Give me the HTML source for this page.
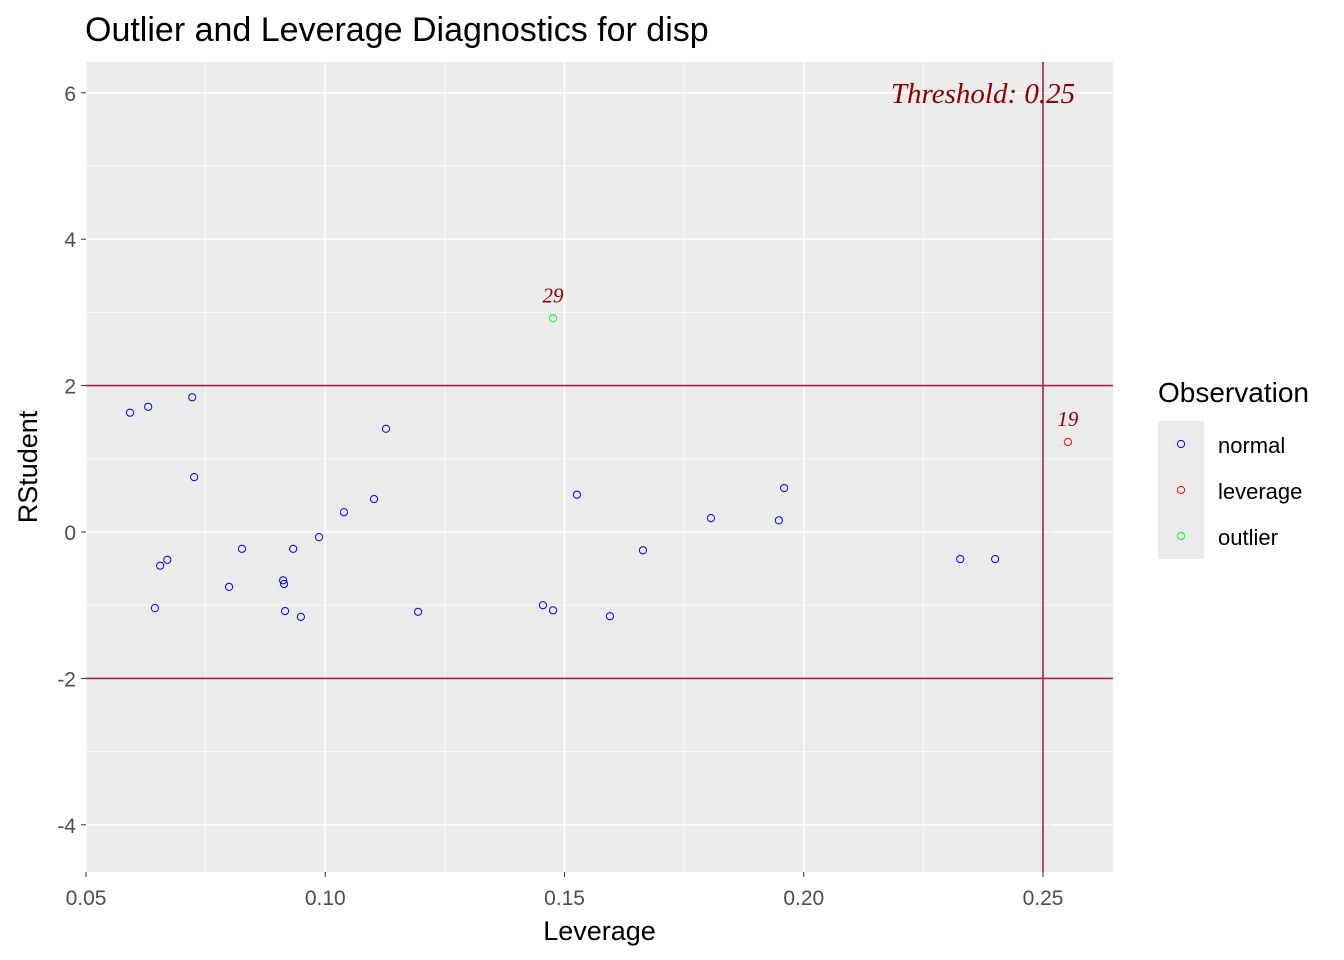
<!DOCTYPE html>
<html><head><meta charset="utf-8"><style>
body{margin:0;background:#fff;}
svg{display:block;font-family:"Liberation Sans",Arial,sans-serif;}
</style></head><body>
<svg id="chart" width="1344" height="960"></svg>
<script>
const xs=[0.0592,0.063,0.0722,0.0726,0.0655,0.067,0.0644,0.0799,0.0826,0.0912,0.0914,0.0916,0.0933,0.0949,0.0987,0.1039,0.1102,0.1127,0.1194,0.1455,0.1476,0.1476,0.1526,0.1595,0.1664,0.1806,0.1948,0.1959,0.2327,0.2400,0.2552];
const ys=[1.63,1.71,1.84,0.75,-0.46,-0.38,-1.04,-0.75,-0.23,-0.66,-0.71,-1.08,-0.23,-1.16,-0.07,0.27,0.45,1.41,-1.09,-1.00,2.92,-1.07,0.51,-1.15,-0.25,0.19,0.16,0.60,-0.37,-0.37,1.23];
const types=["normal","normal","normal","normal","normal","normal","normal","normal","normal","normal","normal","normal","normal","normal","normal","normal","normal","normal","normal","normal","outlier","normal","normal","normal","normal","normal","normal","normal","normal","normal","leverage"];
const labels=["","","","","","","","","","","","","","","","","","","","","29","","","","","","","","","","19"];
const xTicks=[0.05,0.10,0.15,0.20,0.25];
const xTickLabels=["0.05","0.10","0.15","0.20","0.25"];
const yTicks=[-4,-2,0,2,4,6];
const yTickLabels=["-4","-2","0","2","4","6"];
const threshold=0.25;
const hlines=[-2,2];

const L=86,R=1113,T=62,B=872;
const X=v=>86+(v-0.05)*4785;
const Y=v=>532-v*73.2;
const colors={normal:"#0000ff",leverage:"#ff0000",outlier:"#00ff00"};
const svg=document.getElementById('chart');
const NS="http://www.w3.org/2000/svg";
function mk(tag,attrs,parent){const e=document.createElementNS(NS,tag);for(const k in attrs)e.setAttribute(k,attrs[k]);(parent||svg).appendChild(e);return e;}

const panel=mk('rect',{x:L,y:T,width:R-L,height:B-T,fill:"#ebebeb"});


for(let i=0;i<xTicks.length-1;i++){const m=(xTicks[i]+xTicks[i+1])/2;const g=mk('line',{x1:X(m),x2:X(m),y1:T,y2:B,stroke:"#fff","stroke-width":0.7});}
for(let i=0;i<yTicks.length-1;i++){const m=(yTicks[i]+yTicks[i+1])/2;const g=mk('line',{x1:L,x2:R,y1:Y(m),y2:Y(m),stroke:"#fff","stroke-width":0.7});}
xTicks.forEach((t,i)=>{
 const g=mk('line',{x1:X(t),x2:X(t),y1:T,y2:B,stroke:"#fff","stroke-width":1.4});
 
 mk('line',{x1:X(t),x2:X(t),y1:B,y2:B+5,stroke:"#333","stroke-width":1});
 const tx=mk('text',{x:X(t),y:B+33,"text-anchor":"middle","font-size":21,fill:"#4d4d4d"});tx.textContent=xTickLabels[i];
 
});
yTicks.forEach((t,i)=>{
 const g=mk('line',{x1:L,x2:R,y1:Y(t),y2:Y(t),stroke:"#fff","stroke-width":1.4});
 
 mk('line',{x1:L-5,x2:L,y1:Y(t),y2:Y(t),stroke:"#333","stroke-width":1});
 const tx=mk('text',{x:L-10,y:Y(t)+8,"text-anchor":"end","font-size":21,fill:"#4d4d4d"});tx.textContent=yTickLabels[i];
 
});
hlines.forEach(h=>{const l=mk('line',{x1:L,x2:R,y1:Y(h),y2:Y(h),stroke:"#a3224f","stroke-width":1.6});});
const vl=mk('line',{x1:X(threshold),x2:X(threshold),y1:T,y2:B,stroke:"#a3224f","stroke-width":1.6});

const tt=mk('text',{x:X(threshold)-60,y:Y(6)+10,"text-anchor":"middle","font-size":29,"font-style":"italic","font-family":"Liberation Serif,serif",fill:"#8b0000"});
tt.textContent="Threshold: "+threshold;

xs.forEach((x,i)=>{
 const c=mk('circle',{cx:X(x),cy:Y(ys[i]),r:3.6,fill:"none",stroke:colors[types[i]],"stroke-width":1});
 
 if(labels[i]){const t=mk('text',{x:X(x),y:Y(ys[i])-16,"text-anchor":"middle","font-size":21,"font-style":"italic","font-family":"Liberation Serif,serif",fill:"#8b0000"});t.textContent=labels[i];
 }
});
const ttl=mk('text',{x:85,y:41,"font-size":34,fill:"#000"});ttl.textContent="Outlier and Leverage Diagnostics for disp";

const xl=mk('text',{x:(L+R)/2,y:940,"text-anchor":"middle","font-size":27,fill:"#000"});xl.textContent="Leverage";

const yl=mk('text',{x:37,y:467,"text-anchor":"middle","font-size":27,fill:"#000",transform:"rotate(-90 37 467)"});yl.textContent="RStudent";

const lt=mk('text',{x:1158,y:402,"font-size":28,fill:"#000"});lt.textContent="Observation";

["normal","leverage","outlier"].forEach((k,i)=>{
 const y=444+i*46;
 const bg=mk('rect',{x:1158,y:y-23,width:46,height:46,fill:"#ebebeb"});
 
 const c=mk('circle',{cx:1181,cy:y,r:3.6,fill:"none",stroke:colors[k],"stroke-width":1});
 
 const t=mk('text',{x:1218,y:y+9,"font-size":22,fill:"#000"});t.textContent=k;
 
});
</script>
</body></html>
